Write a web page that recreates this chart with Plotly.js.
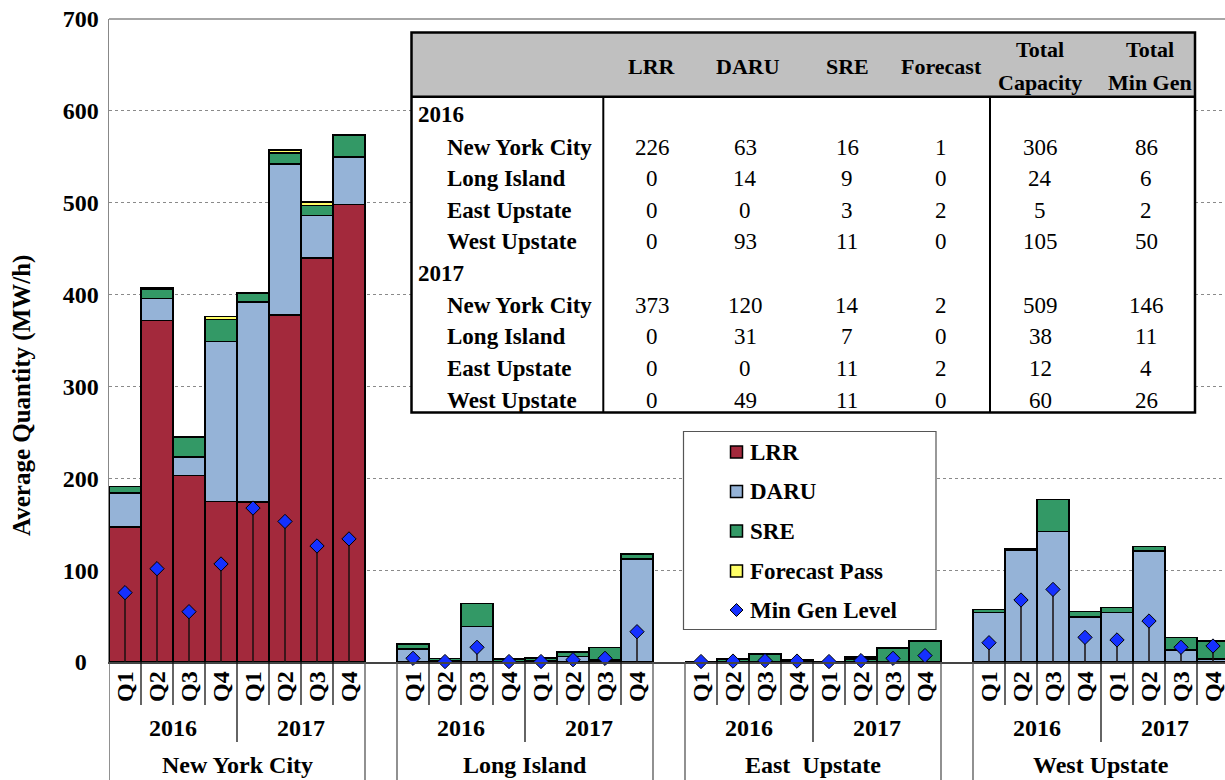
<!DOCTYPE html>
<html><head><meta charset="utf-8">
<script src="https://cdn.plot.ly/plotly-3.0.1.min.js"></script>
<style>html,body{margin:0;padding:0;background:#fff}#chart{width:1225px;height:780px}</style>
</head><body><div id="chart"></div>
<script>
// ---------- DATA ----------
const regions = ['New York City', 'Long Island', 'East\u00A0 Upstate', 'West Upstate'];
const years = ['2016', '2017'];
const quarters = ['Q1', 'Q2', 'Q3', 'Q4'];
// per region: 2016 Q1..Q4, 2017 Q1..Q4
const lrr = [
  [147, 372, 203, 175, 174, 378, 440, 498],
  [0, 0, 0, 0, 0, 0, 0, 0],
  [0, 0, 0, 0, 0, 0, 0, 0],
  [0, 0, 0, 0, 0, 0, 0, 0]
];
const daru = [
  [37, 24, 20, 174, 218, 164, 46, 52],
  [14, 1, 38.5, 0.5, 1, 6, 2, 112],
  [0, 0, 0, 0, 0, 0, 0, 0],
  [54, 122, 142, 49, 54, 121, 13, 3]
];
const sre = [
  [7, 10, 22, 24, 9, 12, 11, 23],
  [5.5, 3, 25, 3, 3.5, 5, 14, 5.5],
  [0, 2.5, 8.5, 0.5, 0, 3, 15, 22.5],
  [3.3, 1.7, 35, 6.2, 5.5, 4.7, 13.8, 20]
];
const forecast = [
  [0, 1, 0, 3, 1, 3.5, 4, 1],
  [0, 0, 0, 0, 0, 0, 0, 0],
  [0, 1, 0.5, 1.5, 0, 2.5, 0.5, 0.5],
  [0, 0, 0, 0, 0, 0, 0, 0]
];
const minGen = [
  [75.5, 101.6, 54.8, 106.7, 167.6, 153, 126.3, 134],
  [4, 0.5, 16, 0.5, 0.5, 2.5, 4, 33],
  [0.5, 1, 1.5, 1, 0.5, 1.5, 4, 7],
  [21, 67.5, 79, 26.8, 24, 44.6, 16, 17.4]
];
const tableHeader = [['LRR'], ['DARU'], ['SRE'], ['Forecast'], ['Total', 'Capacity'], ['Total', 'Min Gen']];
const tableRowLabels = ['New York City', 'Long Island', 'East Upstate', 'West Upstate'];
const table2016 = [
  [226, 63, 16, 1, 306, 86],
  [0, 14, 9, 0, 24, 6],
  [0, 0, 3, 2, 5, 2],
  [0, 93, 11, 0, 105, 50]
];
const table2017 = [
  [373, 120, 14, 2, 509, 146],
  [0, 31, 7, 0, 38, 11],
  [0, 0, 11, 2, 12, 4],
  [0, 49, 11, 0, 60, 26]
];
const legendLabels = ['LRR', 'DARU', 'SRE', 'Forecast Pass', 'Min Gen Level'];

// ---------- STYLE ----------
const FONT = 'Liberation Serif, Times New Roman, serif';
const colors = { lrr: '#A3293C', daru: '#95B3D7', sre: '#339966', fc: '#FFFF66', mg: '#1530FF' };
const L = 109, T = 19, W = 1116, H = 643;   // plot area in pixels
const px = v => (v - L) / W;                  // pixel x -> paper
const py = v => (T + H - v) / H;              // pixel y -> paper

// x positions: 8 quarters per region + 1 gap slot
const xs = [];
regions.forEach((r, ri) => { for (let i = 0; i < 8; i++) xs.push(ri * 9 + i); });
const flat = a => a.flat();

const barLine = { color: '#000', width: 1.5 };
function barTrace(name, vals, color) {
  return { type: 'bar', name, x: xs, y: flat(vals), marker: { color, line: barLine },
           showlegend: false, hoverinfo: 'skip' };
}
const mg = flat(minGen);
const traces = [
  barTrace('LRR', lrr, colors.lrr),
  barTrace('DARU', daru, colors.daru),
  barTrace('SRE', sre, colors.sre),
  barTrace('Forecast Pass', forecast, colors.fc),
  { type: 'scatter', mode: 'markers', name: 'Min Gen Level', x: xs, y: mg,
    marker: { symbol: 'diamond', size: 11, color: colors.mg, line: { color: '#000', width: 1 } },
    error_y: { type: 'data', symmetric: false, array: mg.map(() => 0), arrayminus: mg,
               width: 0, thickness: 1.5, color: '#1a1010' },
    showlegend: false, hoverinfo: 'skip', cliponaxis: false }
];

const shapes = [];
const annotations = [];

// top frame line
shapes.push({ type: 'line', xref: 'paper', yref: 'paper', x0: 0, x1: 1, y0: 1, y1: 1,
              line: { color: '#888', width: 1.5 }, layer: 'above' });

// ---------- category axis labels ----------
const yQ = py(687), yY = py(728), yR = py(765);
const boldFont = s => ({ family: FONT, size: s, weight: 'bold', color: '#000' });
regions.forEach((r, ri) => {
  const base = ri * 9;
  for (let i = 0; i < 8; i++) {
    annotations.push({ xref: 'x', yref: 'paper', x: base + i, y: yQ, text: quarters[i % 4],
      textangle: -90, showarrow: false, xanchor: 'center', yanchor: 'middle', font: boldFont(24) });
  }
  years.forEach((yr, yi) => {
    annotations.push({ xref: 'x', yref: 'paper', x: base + yi * 4 + 1.5, y: yY, text: yr,
      showarrow: false, xanchor: 'center', yanchor: 'middle', font: boldFont(24) });
  });
  annotations.push({ xref: 'x', yref: 'paper', x: base + 3.5, y: yR, text: r,
    showarrow: false, xanchor: 'center', yanchor: 'middle', font: boldFont(24) });
  for (let k = 0; k <= 8; k++) {
    let yb;
    if (k === 0 || k === 8) yb = py(782);
    else if (k === 4) yb = py(742);
    else yb = py(705);
    shapes.push({ type: 'line', xref: 'x', yref: 'paper', x0: base + k - 0.5, x1: base + k - 0.5,
      y0: 0, y1: yb, line: { color: (k === 0 || k === 8) ? '#555' : '#111', width: 1.3 } });
  }
});

// ---------- y axis title ----------
annotations.push({ xref: 'paper', yref: 'paper', x: px(22), y: py(396), text: 'Average Quantity (MW/h)',
  textangle: -90, showarrow: false, xanchor: 'center', yanchor: 'middle', font: boldFont(25) });

// ---------- table ----------
const tL = 411.5, tR = 1195, tT = 32.5, tHB = 96.7, tB = 412.5, tV1 = 603.3, tV2 = 990;
shapes.push({ type: 'rect', xref: 'paper', yref: 'paper', x0: px(tL), x1: px(tR), y0: py(tB), y1: py(tHB),
  fillcolor: '#fff', line: { width: 0 }, layer: 'above' });
shapes.push({ type: 'rect', xref: 'paper', yref: 'paper', x0: px(tL), x1: px(tR), y0: py(tHB), y1: py(tT),
  fillcolor: '#C0C0C0', line: { width: 0 }, layer: 'above' });
shapes.push({ type: 'line', xref: 'paper', yref: 'paper', x0: px(tL), x1: px(tR), y0: py(tHB), y1: py(tHB),
  line: { color: '#000', width: 2.5 }, layer: 'above' });
[tV1, tV2].forEach(v => shapes.push({ type: 'line', xref: 'paper', yref: 'paper', x0: px(v), x1: px(v),
  y0: py(tB), y1: py(tHB), line: { color: '#000', width: 2 }, layer: 'above' }));
shapes.push({ type: 'rect', xref: 'paper', yref: 'paper', x0: px(tL), x1: px(tR), y0: py(tB), y1: py(tT),
  line: { color: '#000', width: 2.5 }, layer: 'above' });

const colX = [652, 748, 847, 941, 1040, 1150];
const valX = [652, 745, 847, 941, 1040, 1146];
tableHeader.forEach((lines, ci) => {
  const ys = lines.length === 1 ? [66.7] : [49.5, 83];
  lines.forEach((t, li) => annotations.push({ xref: 'paper', yref: 'paper', x: px(colX[ci]), y: py(ys[li]),
    text: t, showarrow: false, xanchor: 'center', yanchor: 'middle', font: boldFont(22) }));
});
const rowY = [115, 147, 178.5, 210, 241.5, 273, 305, 336.5, 368, 400];
[table2016, table2017].forEach((tbl, yi) => {
  const y0 = yi * 5;
  annotations.push({ xref: 'paper', yref: 'paper', x: px(416), y: py(rowY[y0]), text: years[yi],
    showarrow: false, xanchor: 'left', yanchor: 'middle', font: boldFont(23) });
  tbl.forEach((row, ri) => {
    const yy = py(rowY[y0 + 1 + ri]);
    annotations.push({ xref: 'paper', yref: 'paper', x: px(445), y: yy, text: tableRowLabels[ri],
      showarrow: false, xanchor: 'left', yanchor: 'middle', font: boldFont(23) });
    row.forEach((v, ci) => annotations.push({ xref: 'paper', yref: 'paper', x: px(valX[ci]), y: yy,
      text: String(v), showarrow: false, xanchor: 'center', yanchor: 'middle',
      font: { family: FONT, size: 23, color: '#000' } }));
  });
});

// ---------- legend (drawn box) ----------
const lgL = 683.5, lgR = 936, lgT = 431.5, lgB = 629.5;
shapes.push({ type: 'rect', xref: 'paper', yref: 'paper', x0: px(lgL), x1: px(lgR), y0: py(lgB), y1: py(lgT),
  fillcolor: '#fff', line: { color: '#555', width: 1.2 }, layer: 'above' });
const lgY = [452, 491.5, 531, 571, 610];
const lgFill = [colors.lrr, colors.daru, colors.sre, colors.fc];
const symX = 736.5;
lgFill.forEach((c, i) => shapes.push({ type: 'rect', xref: 'paper', yref: 'paper',
  x0: px(symX - 6), x1: px(symX + 6), y0: py(lgY[i] + 6), y1: py(lgY[i] - 6),
  fillcolor: c, line: { color: '#000', width: 1.5 }, layer: 'above' }));
{
  const cy = lgY[4], d = 6.5;
  shapes.push({ type: 'path', xref: 'paper', yref: 'paper', layer: 'above',
    path: `M ${px(symX)} ${py(cy - d)} L ${px(symX + d)} ${py(cy)} L ${px(symX)} ${py(cy + d)} L ${px(symX - d)} ${py(cy)} Z`,
    fillcolor: colors.mg, line: { color: '#000', width: 1 } });
}
legendLabels.forEach((t, i) => annotations.push({ xref: 'paper', yref: 'paper', x: px(748), y: py(lgY[i]),
  text: t, showarrow: false, xanchor: 'left', yanchor: 'middle', font: boldFont(23) }));

// ---------- layout ----------
const yTicks = [0, 100, 200, 300, 400, 500, 600, 700];
const layout = {
  width: 1225, height: 780,
  margin: { l: L, r: 0, t: T, b: 780 - T - H },
  paper_bgcolor: '#fff', plot_bgcolor: '#fff',
  barmode: 'stack', bargap: 0,
  showlegend: false,
  xaxis: { range: [-0.5, 34.375], showticklabels: false, ticks: '', showgrid: false, zeroline: false,
           showline: true, linecolor: '#444', linewidth: 1.5, fixedrange: true },
  yaxis: { range: [0, 700], tickvals: yTicks,
           ticktext: yTicks.map(v => v === 0 ? '0\u00A0\u00A0' : String(v)),
           tickfont: boldFont(24),
           ticks: '', ticklabelstandoff: 4,
           showgrid: true, gridcolor: '#8a8a8a', griddash: 'dot', gridwidth: 1,
           zeroline: false, showline: true, linecolor: '#888', linewidth: 1.5, fixedrange: true },
  shapes, annotations,
  font: { family: FONT, color: '#000' }
};
Plotly.newPlot('chart', traces, layout, { staticPlot: true, displayModeBar: false });
</script>
</body></html>
